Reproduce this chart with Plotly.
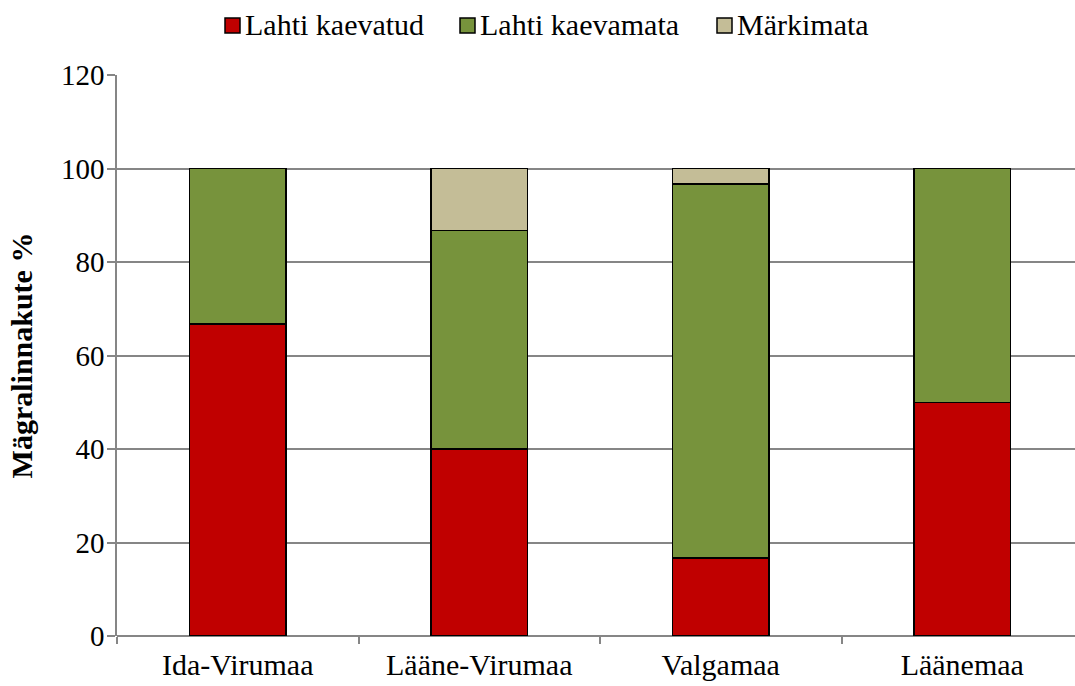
import plotly.graph_objects as go

categories = ["Ida-Virumaa", "Lääne-Virumaa", "Valgamaa", "Läänemaa"]
kaevatud = [66.7, 40.0, 16.7, 50.0]
kaevamata = [33.3, 46.7, 80.0, 50.0]
markimata = [0.0, 13.3, 3.3, 0.0]
series_names = ["Lahti kaevatud", "Lahti kaevamata", "Märkimata"]
colors = ["#C00000", "#77933C", "#C4BD97"]
y_ticks = [0, 20, 40, 60, 80, 100, 120]

FONT = "Liberation Serif, Times New Roman, serif"

fig = go.Figure()
for name, vals, col in zip(series_names, [kaevatud, kaevamata, markimata], colors):
    fig.add_trace(go.Bar(
        x=categories, y=vals, name=name,
        marker=dict(color=col, line=dict(color="#000000", width=1.5)),
        width=0.4, showlegend=False,
    ))

L, T, B0 = 117, 75, 636
W, H = 1075, 686
PW, PH = W - L, B0 - T


def px2x(px):
    return (px - L) / PW


def py2y(py):
    return (B0 - py) / PH


# custom legend (pixel layout)
legend_sq_x = [225, 460, 717]
sq = 15
sq_top, sq_bot = 18, 33
shapes = []
annotations = []
for name, col, sx in zip(series_names, colors, legend_sq_x):
    shapes.append(dict(type="rect", xref="paper", yref="paper",
                       x0=px2x(sx), x1=px2x(sx + sq), y0=py2y(sq_bot), y1=py2y(sq_top),
                       fillcolor=col, line=dict(color="#000000", width=1.5)))
    annotations.append(dict(text=name, xref="paper", yref="paper",
                            x=px2x(sx + sq + 3), y=py2y(24), xanchor="left", yanchor="middle",
                            showarrow=False, font=dict(size=30, family=FONT, color="#000000")))

fig.update_layout(
    barmode="stack",
    width=W, height=H,
    margin=dict(l=L, r=0, t=T, b=H - B0),
    paper_bgcolor="white", plot_bgcolor="white",
    font=dict(family=FONT, size=29, color="#000000"),
    showlegend=False,
    shapes=shapes, annotations=annotations,
)
fig.update_xaxes(
    type="category",
    range=[-0.5, -0.5 + PW / 241.5],
    showline=False, showgrid=False,
    ticks="outside", tickson="boundaries", ticklen=7, tickcolor="#868686", tickwidth=1.5,
    tickfont=dict(size=30), ticklabelstandoff=8, automargin=False,
)
fig.update_yaxes(
    range=[0, 120], tickvals=y_ticks,
    showgrid=True, gridcolor="#868686", gridwidth=1.5,
    showline=True, linecolor="#868686", linewidth=1.5,
    ticks="outside", ticklen=8, tickcolor="#868686", tickwidth=1.5,
    zeroline=True, zerolinecolor="#868686", zerolinewidth=1.5,
    tickfont=dict(size=29), ticklabelstandoff=-3,
    title=dict(text="<b>Mägralinnakute %</b>", font=dict(size=30), standoff=19),
    automargin=False,
)
fig.write_html("out.html", config={"displayModeBar": False},
               post_script="document.body.style.margin='0px';document.body.style.overflow='hidden';")
